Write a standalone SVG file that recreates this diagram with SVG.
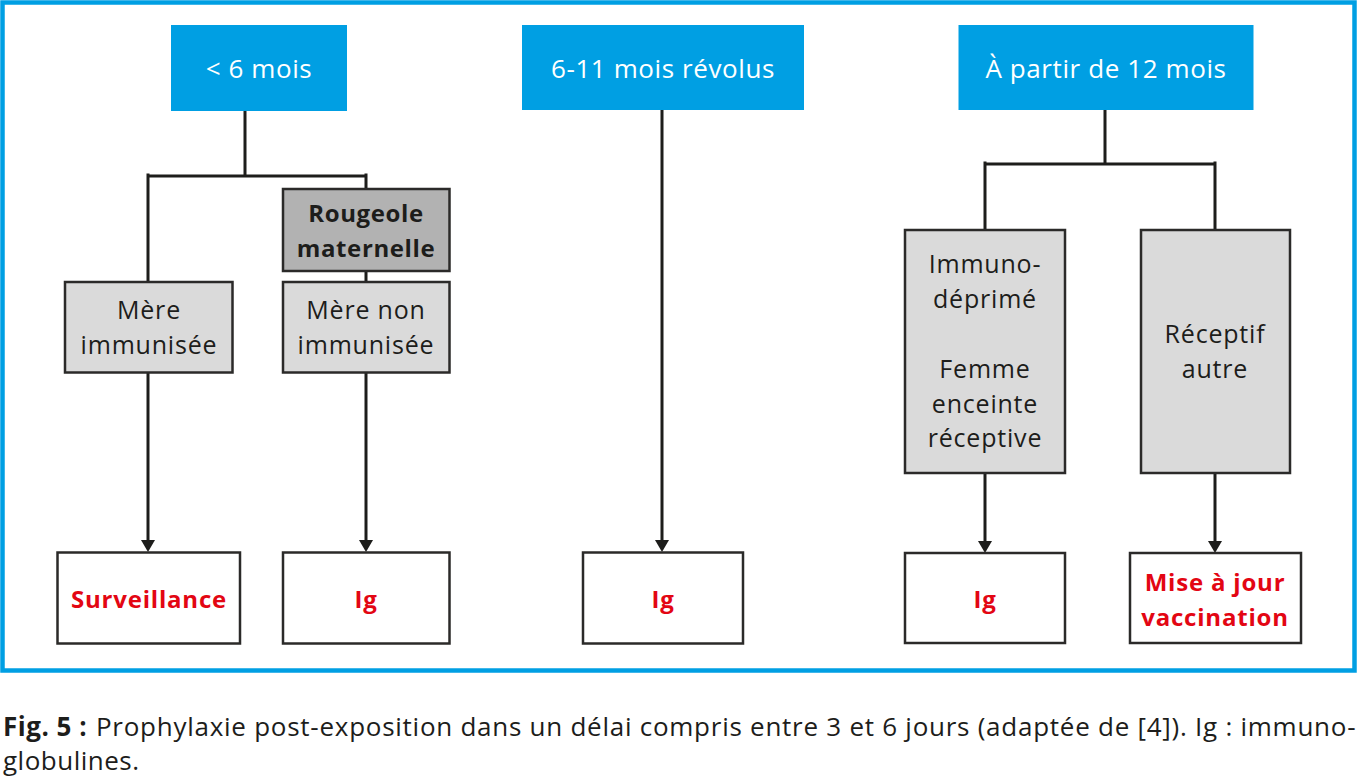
<svg xmlns="http://www.w3.org/2000/svg" width="1359" height="778" viewBox="0 0 1359 778">
<style>
.frame{fill:none;stroke:#009fe3;stroke-width:4.5}
.hdr{fill:#009fe3}
.htxt{font-family:"Open Sans","Liberation Sans",sans-serif;font-size:26px;fill:#ffffff;text-anchor:middle;letter-spacing:0.6px}
.grey{fill:#dadada;stroke:#2b2a29;stroke-width:2.5}
.dark{fill:#b2b2b2;stroke:#2b2a29;stroke-width:2.5}
.res{fill:#ffffff;stroke:#2b2a29;stroke-width:2.5}
.t{font-family:"Open Sans","Liberation Sans",sans-serif;font-size:25px;fill:#1d1d1b;text-anchor:middle;letter-spacing:0.8px}
.tb{font-family:"Open Sans","Liberation Sans",sans-serif;font-size:24px;font-weight:bold;fill:#1d1d1b;text-anchor:middle;letter-spacing:0.6px}
.red{font-family:"Open Sans","Liberation Sans",sans-serif;font-size:24px;font-weight:bold;fill:#e30613;text-anchor:middle;letter-spacing:0.8px}
.ln{fill:none;stroke:#1d1d1b;stroke-width:3}
.cap{font-family:"Open Sans","Liberation Sans",sans-serif;font-size:26px;fill:#1d1d1b;letter-spacing:0.5px}
</style>
<defs>
<marker id="arr" viewBox="0 0 12 14" markerUnits="userSpaceOnUse" markerWidth="12" markerHeight="14" refX="8" refY="7" orient="auto">
<path d="M0,0 L12,7 L0,14 z" fill="#1d1d1b"/>
</marker>
</defs>
<rect class="frame" x="2.5" y="2.5" width="1352" height="668"/>
<g id="connectors">
<path class="ln" d="M245,110 V176 M148,176 H366 M148,173.5 V282 M366,173.5 V189 M366,271 V282"/>
<path class="ln" d="M148,372 V548" marker-end="url(#arr)"/>
<path class="ln" d="M366,372 V548" marker-end="url(#arr)"/>
<path class="ln" d="M662,110 V548" marker-end="url(#arr)"/>
<path class="ln" d="M1105,110 V164 M985,164 H1215 M985,161.5 V230 M1215,161.5 V230"/>
<path class="ln" d="M985,473 V549" marker-end="url(#arr)"/>
<path class="ln" d="M1215,473 V549" marker-end="url(#arr)"/>
</g>
<g id="n-lt6">
<rect class="hdr" x="171" y="25" width="176" height="86"/>
<text class="htxt" x="259" y="78">&lt; 6 mois</text>
</g>
<g id="n-6-11">
<rect class="hdr" x="522" y="25" width="282" height="85"/>
<text class="htxt" x="663" y="78">6-11 mois révolus</text>
</g>
<g id="n-12">
<rect class="hdr" x="958.5" y="25" width="295" height="85"/>
<text class="htxt" x="1106" y="78">À partir de 12 mois</text>
</g>
<g id="n-rougeole">
<rect class="dark" x="283" y="189" width="166.5" height="82"/>
<text class="tb" x="366" y="222">Rougeole</text>
<text class="tb" x="366" y="257">maternelle</text>
</g>
<g id="n-mere-imm">
<rect class="grey" x="65" y="282" width="167.5" height="90.5"/>
<text class="t" x="149" y="319">Mère</text>
<text class="t" x="149" y="354">immunisée</text>
</g>
<g id="n-mere-non">
<rect class="grey" x="283" y="282" width="166.5" height="90.5"/>
<text class="t" x="366" y="319">Mère non</text>
<text class="t" x="366" y="354">immunisée</text>
</g>
<g id="n-immuno">
<rect class="grey" x="905" y="230" width="160" height="243"/>
<text class="t" x="985" y="273">Immuno-</text>
<text class="t" x="985" y="308">déprimé</text>
<text class="t" x="985" y="378">Femme</text>
<text class="t" x="985" y="413">enceinte</text>
<text class="t" x="985" y="447">réceptive</text>
</g>
<g id="n-receptif">
<rect class="grey" x="1141" y="230" width="149" height="243"/>
<text class="t" x="1215" y="343">Réceptif</text>
<text class="t" x="1215" y="378">autre</text>
</g>
<g id="n-surv">
<rect class="res" x="57.5" y="552.5" width="182.5" height="91"/>
<text class="red" x="149" y="608">Surveillance</text>
</g>
<g id="n-ig1">
<rect class="res" x="283" y="552.5" width="166.5" height="91"/>
<text class="red" x="366" y="608">Ig</text>
</g>
<g id="n-ig2">
<rect class="res" x="583" y="552.5" width="160" height="91"/>
<text class="red" x="663" y="608">Ig</text>
</g>
<g id="n-ig3">
<rect class="res" x="905" y="553" width="160" height="90"/>
<text class="red" x="985" y="608">Ig</text>
</g>
<g id="n-mise">
<rect class="res" x="1130" y="553" width="171" height="90"/>
<text class="red" x="1215" y="591">Mise à jour</text>
<text class="red" x="1215" y="626">vaccination</text>
</g>
<g id="caption">
<text class="cap" x="3" y="736" font-weight="bold">Fig. 5 :</text>
<text class="cap" x="96" y="736" textLength="1260" lengthAdjust="spacing">Prophylaxie post-exposition dans un délai compris entre 3 et 6 jours (adaptée de [4]). Ig : immuno-</text>
<text class="cap" x="3" y="770">globulines.</text>
</g>
</svg>
